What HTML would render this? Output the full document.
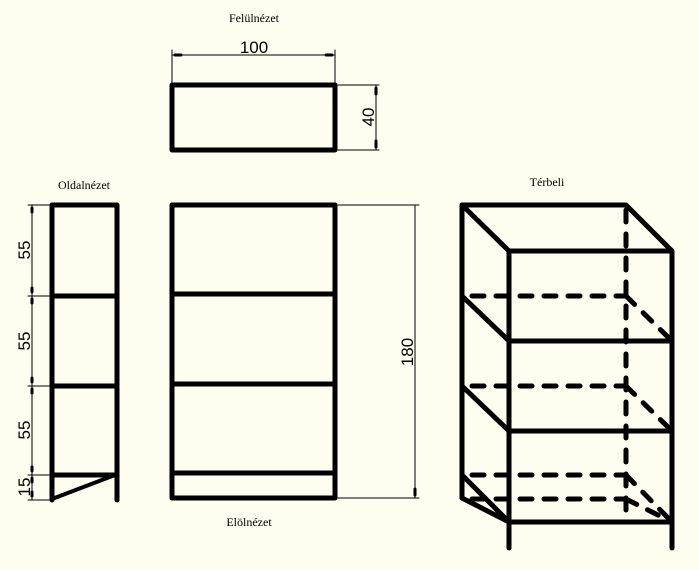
<!DOCTYPE html>
<html><head><meta charset="utf-8"><style>
html,body{margin:0;padding:0;background:#fffcf0;}
svg{display:block}
text{font-family:"Liberation Serif",serif;fill:#000}
.d{font-family:"Liberation Sans",sans-serif;font-size:17px;font-weight:normal}
</style></head><body>
<svg width="699" height="570" viewBox="0 0 699 570" xmlns="http://www.w3.org/2000/svg">
<rect width="699" height="570" fill="#fffcf0"/>
<g fill="none" stroke="#000" stroke-linecap="round" stroke-linejoin="round">
<!-- top view -->
<rect x="172" y="85" width="163" height="65" stroke-width="5"/>
<!-- front view -->
<rect x="172" y="205" width="163" height="293" stroke-width="5"/>
<line x1="172" y1="294" x2="335" y2="294" stroke-width="5"/>
<line x1="172" y1="384" x2="335" y2="384" stroke-width="5"/>
<line x1="172" y1="473" x2="335" y2="473" stroke-width="5"/>
<!-- side view -->
<polyline points="52,500 52,205 117,205 117,500" stroke-width="5"/>
<line x1="52" y1="296" x2="117" y2="296" stroke-width="5"/>
<line x1="52" y1="386" x2="117" y2="386" stroke-width="5"/>
<line x1="52" y1="475" x2="117" y2="475" stroke-width="5"/>
<line x1="52" y1="499" x2="115" y2="475" stroke-width="4"/>
<!-- 3D -->
<g stroke-width="5">
<polyline points="509,548 509,251 672,251 672,548"/>
<polyline points="462,498 462,205 626,205 672,251"/>
<line x1="462" y1="205" x2="509" y2="251"/>
<line x1="509" y1="341" x2="672" y2="341"/>
<line x1="509" y1="431" x2="672" y2="431"/>
<line x1="509" y1="522" x2="672" y2="522"/>
<line x1="462" y1="296" x2="509" y2="341"/>
<line x1="462" y1="386" x2="509" y2="431"/>
<line x1="462" y1="475" x2="509" y2="522"/>
<line x1="462" y1="498" x2="509" y2="522"/>
</g>
<g stroke-width="5" stroke-dasharray="12,12">
<line x1="626" y1="210" x2="626" y2="520"/>
<line x1="472" y1="296" x2="626" y2="296"/>
<line x1="472" y1="386" x2="626" y2="386"/>
<line x1="472" y1="475" x2="626" y2="475"/>
<line x1="472" y1="499" x2="626" y2="499"/>
<line x1="626" y1="296" x2="672" y2="341"/>
<line x1="626" y1="386" x2="672" y2="431"/>
<line x1="626" y1="475" x2="672" y2="522"/>
<line x1="626" y1="499" x2="672" y2="522"/>
</g>
<!-- dimensions -->
<g stroke-width="1">
<line x1="172" y1="83" x2="172" y2="50"/>
<line x1="335" y1="83" x2="335" y2="50"/>
<line x1="172" y1="55" x2="335" y2="55"/>
<line x1="338" y1="85" x2="379" y2="85"/>
<line x1="338" y1="150" x2="379" y2="150"/>
<line x1="376" y1="85" x2="376" y2="150"/>
<line x1="338" y1="205" x2="419" y2="205"/>
<line x1="338" y1="498" x2="419" y2="498"/>
<line x1="415" y1="205" x2="415" y2="498"/>
<line x1="28" y1="205" x2="50" y2="205"/>
<line x1="28" y1="296" x2="50" y2="296"/>
<line x1="28" y1="386" x2="50" y2="386"/>
<line x1="28" y1="475" x2="50" y2="475"/>
<line x1="28" y1="500" x2="50" y2="500"/>
<line x1="32" y1="205" x2="32" y2="500"/>
</g>
<g stroke-width="3">
<line x1="175" y1="55" x2="181" y2="55"/><line x1="326" y1="55" x2="332" y2="55"/>
<line x1="376" y1="88" x2="376" y2="94"/><line x1="376" y1="141" x2="376" y2="147"/>
<line x1="415" y1="489" x2="415" y2="495"/>
<line x1="32" y1="208" x2="32" y2="212"/><line x1="32" y1="288" x2="32" y2="292"/>
<line x1="32" y1="299" x2="32" y2="303"/><line x1="32" y1="378" x2="32" y2="382"/>
<line x1="32" y1="389" x2="32" y2="393"/><line x1="32" y1="467" x2="32" y2="471"/>
<line x1="32" y1="478" x2="32" y2="482"/><line x1="32" y1="492" x2="32" y2="496"/>
</g>
</g>
<text x="254" y="22" font-size="12" text-anchor="middle">Felülnézet</text>
<text x="84" y="189" font-size="12" text-anchor="middle">Oldalnézet</text>
<text x="547" y="186" font-size="12" text-anchor="middle">Térbeli</text>
<text x="249" y="526" font-size="12" text-anchor="middle">Elölnézet</text>
<text class="d" x="254" y="53" text-anchor="middle">100</text>
<text class="d" transform="translate(374,117) rotate(-90)" text-anchor="middle">40</text>
<text class="d" transform="translate(413,352) rotate(-90)" text-anchor="middle">180</text>
<text class="d" transform="translate(30,250) rotate(-90)" text-anchor="middle">55</text>
<text class="d" transform="translate(30,341) rotate(-90)" text-anchor="middle">55</text>
<text class="d" transform="translate(30,430) rotate(-90)" text-anchor="middle">55</text>
<text class="d" transform="translate(30,487) rotate(-90)" text-anchor="middle">15</text>
</svg>
</body></html>
